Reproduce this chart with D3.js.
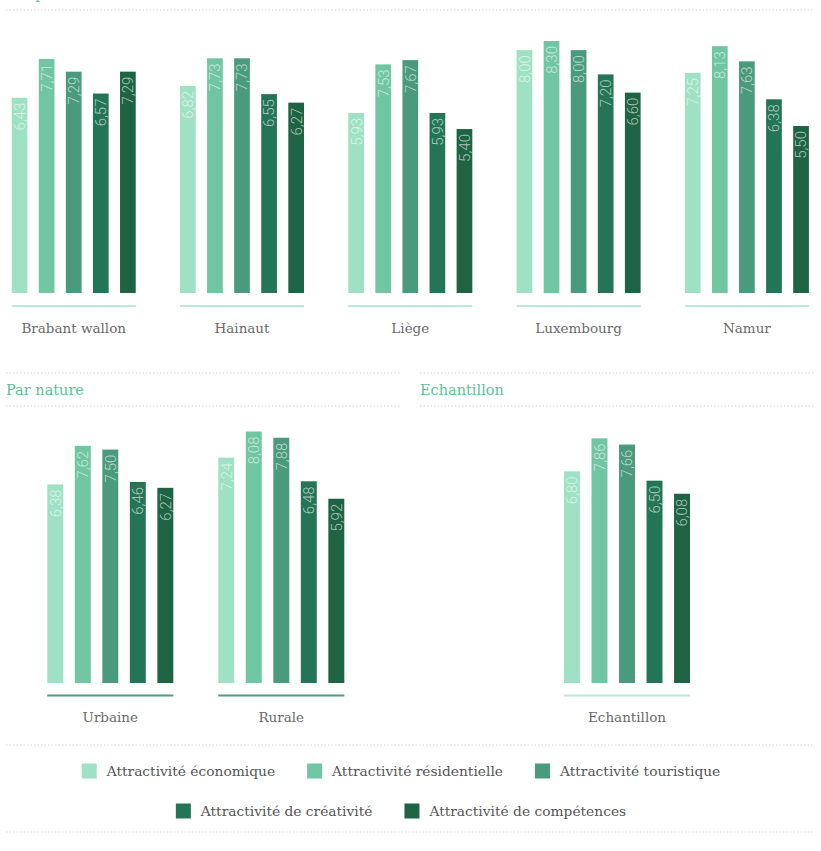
<!DOCTYPE html>
<html><head><meta charset="utf-8">
<script src="https://cdn.jsdelivr.net/npm/d3@7"></script>
<style>
html,body{margin:0;padding:0;background:#fff;}
svg{display:block;}
</style></head>
<body>
<svg id="chart" width="821" height="851"></svg>
<script>
// ---- data ----
const series = ["Attractivité économique","Attractivité résidentielle","Attractivité touristique","Attractivité de créativité","Attractivité de compétences"];
const colors = ["#9fe1c5","#70c6a3","#4a9a7d","#247557","#1e6444"];
const provinces = ["Brabant wallon","Hainaut","Liège","Luxembourg","Namur"];
const provinceValues = [
  [6.43,7.71,7.29,6.57,7.29],
  [6.82,7.73,7.73,6.55,6.27],
  [5.93,7.53,7.67,5.93,5.40],
  [8.00,8.30,8.00,7.20,6.60],
  [7.25,8.13,7.63,6.38,5.50]
];
const natures = ["Urbaine","Rurale"];
const natureValues = [
  [6.38,7.62,7.50,6.46,6.27],
  [7.24,8.08,7.88,6.48,5.92]
];
const samples = ["Echantillon"];
const sampleValues = [
  [6.80,7.86,7.66,6.50,6.08]
];
const sectionTitles = ["Par province","Par nature","Echantillon"];

const svg = d3.select("#chart");
const fmt = v => d3.format(".2f")(v).replace(".", ",");
const serif = "'DejaVu Serif', serif";

function dotted(x1, x2, y){
  svg.append("line").attr("x1",x1).attr("x2",x2).attr("y1",y).attr("y2",y)
    .attr("stroke","#e4e4e4").attr("stroke-width",1.5).attr("stroke-dasharray","1.5,2");
}
function title(txt, x, y){
  svg.append("text").attr("x",x).attr("y",y).text(txt)
    .attr("font-family",serif).attr("font-size",14.5).attr("fill","#62bf98");
}

function drawGroup(cats, vals, xRange, yScale, axisY, lineColor, labelY){
  const x0 = d3.scaleBand().domain(cats).range(xRange)
    .paddingInner(cats.length > 1 ? 0.263 : 0).paddingOuter(0);
  const x1 = d3.scaleBand().domain(series).range([0, x0.bandwidth()]).paddingInner(0.42).paddingOuter(0);
  const g = svg.append("g");
  cats.forEach((c, ci) => {
    const gg = g.append("g").attr("transform", `translate(${x0(c)},0)`);
    const data = series.map((s, si) => ({s, v: vals[ci][si], color: colors[si]}));
    gg.selectAll("rect").data(data).join("rect")
      .attr("x", d => x1(d.s)).attr("width", x1.bandwidth())
      .attr("y", d => yScale(d.v)).attr("height", d => yScale(0) - yScale(d.v))
      .attr("fill", d => d.color);
    gg.selectAll("text.val").data(data).join("text").attr("class","val")
      .attr("transform", d => `translate(${x1(d.s) + x1.bandwidth()/2},${yScale(d.v) + 5}) rotate(-90)`)
      .attr("text-anchor","end").attr("dy","0.36em")
      .attr("font-family","Roboto, sans-serif").attr("font-weight",300).attr("font-size",15)
      .attr("fill","rgba(255,255,255,0.62)")
      .text(d => fmt(d.v));
    gg.append("line").attr("x1",0).attr("x2",x0.bandwidth()).attr("y1",axisY).attr("y2",axisY)
      .attr("stroke",lineColor).attr("stroke-width",2);
    gg.append("text").attr("x",x0.bandwidth()/2).attr("y",labelY).attr("text-anchor","middle")
      .attr("font-family",serif).attr("font-size",13.5).attr("fill","#6a6a6a").text(c);
  });
}

// section headers
title(sectionTitles[0], 6, -1);
dotted(6, 815, 10);
dotted(6, 400, 373); dotted(6, 400, 406);
title(sectionTitles[1], 6, 395);
dotted(420, 815, 373); dotted(420, 815, 406);
title(sectionTitles[2], 420, 395);

// top row
const yTop = d3.scaleLinear().domain([0, 8.3]).range([293, 41]);
drawGroup(provinces, provinceValues, [11.7, 808.9], yTop, 306, "#bce8d6", 333);

// bottom row
const yBot = d3.scaleLinear().domain([0, 8.08]).range([683, 431.5]);
drawGroup(natures, natureValues, [47.3, 344.3], yBot, 695.5, "#4f9a83", 722);
drawGroup(samples, sampleValues, [564, 690], yBot, 695.5, "#bce8d6", 722);

// legend
dotted(6, 815, 745);
dotted(6, 815, 832);
const legendRows = [[0,1,2],[3,4]];
const legendRowY = [771, 811];
legendRows.forEach((row, ri) => {
  const g = svg.append("g");
  let x = 0;
  row.forEach(si => {
    const item = g.append("g").attr("transform", `translate(${x},0)`);
    item.append("rect").attr("x",0).attr("y",-7.5).attr("width",15).attr("height",15).attr("fill",colors[si]);
    const t = item.append("text").attr("x",25).attr("y",0).attr("dy","0.35em")
      .attr("font-family",serif).attr("font-size",13.8).attr("fill","#555").text(series[si]);
    x += 25 + t.node().getComputedTextLength() + 32;
  });
  const w = x - 32;
  g.attr("transform", `translate(${(802 - w)/2},${legendRowY[ri]})`);
});
</script>
</body></html>
